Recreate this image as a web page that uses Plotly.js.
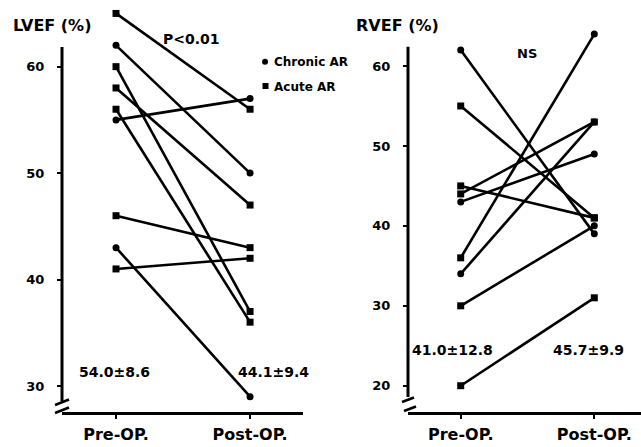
<!DOCTYPE html>
<html>
<head>
<meta charset="utf-8">
<script src="https://cdn.plot.ly/plotly-3.0.1.min.js"></script>
<style>html,body{margin:0;padding:0;background:#fff;}#chart{width:641px;height:447px;}</style>
</head>
<body>
<div id="chart"></div>
<script>
// ---- data ----
const stages = ['Pre-OP.', 'Post-OP.'];
const lvefPre  = [65, 62, 60, 58, 55, 56, 46, 43, 41];
const lvefPost = [56, 50, 37, 47, 57, 36, 43, 29, 42];
const lvefGroupPre  = ['acute','chronic','acute','acute','chronic','acute','acute','chronic','acute'];
const lvefGroupPost = ['acute','chronic','acute','acute','chronic','acute','acute','chronic','acute'];
const rvefPre  = [62, 55, 45, 44, 43, 36, 34, 30, 20];
const rvefPost = [39, 41, 41, 53, 49, 64, 53, 40, 31];
const rvefGroupPre  = ['chronic','acute','acute','acute','chronic','acute','chronic','acute','acute'];
const rvefGroupPost = ['chronic','acute','acute','acute','chronic','chronic','chronic','chronic','acute'];
const lvefTicks = [30, 40, 50, 60];
const rvefTicks = [20, 30, 40, 50, 60];
const lvefStats = ['54.0±8.6', '44.1±9.4'];
const rvefStats = ['41.0±12.8', '45.7±9.9'];
const lvefP = 'P<0.01';
const rvefP = 'NS';
const legendNames = ['Chronic AR', 'Acute AR'];

// ---- helpers ----
const W = 641, H = 447;
const px = x => x / W;
const py = y => 1 - y / H;
const sym = g => g === 'chronic' ? 'circle' : 'square';
const FONT = 'DejaVu Sans';
const f = (size) => ({family: FONT, size: size, color: '#000', weight: 'bold'});

const traces = [];
function addPanel(pre, post, gPre, gPost, xa, ya) {
  for (let i = 0; i < pre.length; i++) {
    traces.push({
      x: stages, y: [pre[i], post[i]], xaxis: xa, yaxis: ya,
      mode: 'lines+markers', type: 'scatter', showlegend: false, hoverinfo: 'skip',
      line: {color: '#000', width: 2.6},
      marker: {color: '#000', size: 7, symbol: [sym(gPre[i]), sym(gPost[i])]},
      cliponaxis: false
    });
  }
}
addPanel(lvefPre, lvefPost, lvefGroupPre, lvefGroupPost, 'x', 'y');
addPanel(rvefPre, rvefPost, rvefGroupPre, rvefGroupPost, 'x2', 'y2');

const yDom = [py(411.7), py(8)];
const xCommon = {
  type: 'category', showgrid: false, zeroline: false, showline: true, linewidth: 3, linecolor: '#000',
  ticks: 'outside', ticklen: 4, tickwidth: 2, tickcolor: '#000', tickfont: f(16), ticklabelstandoff: 2, fixedrange: true
};
const yCommon = {
  showgrid: false, zeroline: false, showline: false,
  ticks: 'outside', ticklen: 4, tickwidth: 2, tickcolor: '#000', tickfont: f(13), ticklabelstandoff: 10, fixedrange: true
};

const shapes = [
  // left y-axis line with break
  {type: 'line', xref: 'paper', yref: 'y', x0: px(62), x1: px(62), y0: 28.6, y1: 61.85, line: {color: '#000', width: 3}},
  {type: 'line', xref: 'paper', yref: 'paper', x0: px(55), y0: py(405), x1: px(69), y1: py(399.5), line: {color: '#000', width: 2.5}},
  {type: 'line', xref: 'paper', yref: 'paper', x0: px(55), y0: py(413), x1: px(69), y1: py(407.5), line: {color: '#000', width: 2.5}},
  // right y-axis line with break
  {type: 'line', xref: 'paper', yref: 'y2', x0: px(408), x1: px(408), y0: 18.6, y1: 62.4, line: {color: '#000', width: 3}},
  {type: 'line', xref: 'paper', yref: 'paper', x0: px(402), y0: py(402), x1: px(414), y1: py(397.5), line: {color: '#000', width: 2.5}},
  {type: 'line', xref: 'paper', yref: 'paper', x0: px(404), y0: py(411), x1: px(416), y1: py(406.5), line: {color: '#000', width: 2.5}},
  // legend markers
  {type: 'circle', xref: 'paper', yref: 'paper', x0: px(262), x1: px(268), y0: py(58.7), y1: py(64.7), fillcolor: '#000', line: {width: 0}},
  {type: 'rect', xref: 'paper', yref: 'paper', x0: px(262.5), x1: px(268.5), y0: py(83), y1: py(89), fillcolor: '#000', line: {width: 0}}
];

const ann = (text, x, y, size, xanchor) => ({
  text: text, xref: 'paper', yref: 'paper', x: px(x), y: py(y), showarrow: false,
  xanchor: xanchor || 'center', yanchor: 'middle', font: f(size)
});

const annotations = [
  ann('LVEF (%)', 51.5, 26, 16),
  ann('RVEF (%)', 397.5, 26, 16),
  ann(lvefP, 191.5, 39, 14),
  ann(rvefP, 526.7, 53, 13),
  ann(lvefStats[0], 114, 372, 14),
  ann(lvefStats[1], 273, 372, 14),
  ann(rvefStats[0], 452, 350, 14),
  ann(rvefStats[1], 588, 350, 14),
  ann(legendNames[0], 272, 62, 12, 'left'),
  ann(legendNames[1], 272, 87, 12, 'left')
];

const layout = {
  width: W, height: H,
  margin: {l: 0, r: 0, t: 0, b: 0},
  paper_bgcolor: '#fff', plot_bgcolor: 'rgba(0,0,0,0)',
  showlegend: false,
  xaxis: Object.assign({}, xCommon, {domain: [px(62), px(303)], range: [-0.403, 1.395], anchor: 'y'}),
  yaxis: Object.assign({}, yCommon, {domain: yDom, range: [27.59, 65.51], tickvals: lvefTicks, anchor: 'x'}),
  xaxis2: Object.assign({}, xCommon, {domain: [px(408), 1], range: [-0.3945, 1.3496], anchor: 'y2'}),
  yaxis2: Object.assign({}, yCommon, {domain: yDom, range: [16.75, 67.26], tickvals: rvefTicks, anchor: 'x2'}),
  shapes: shapes,
  annotations: annotations
};

Plotly.newPlot('chart', traces, layout, {displayModeBar: false, staticPlot: true});
</script>
</body>
</html>
